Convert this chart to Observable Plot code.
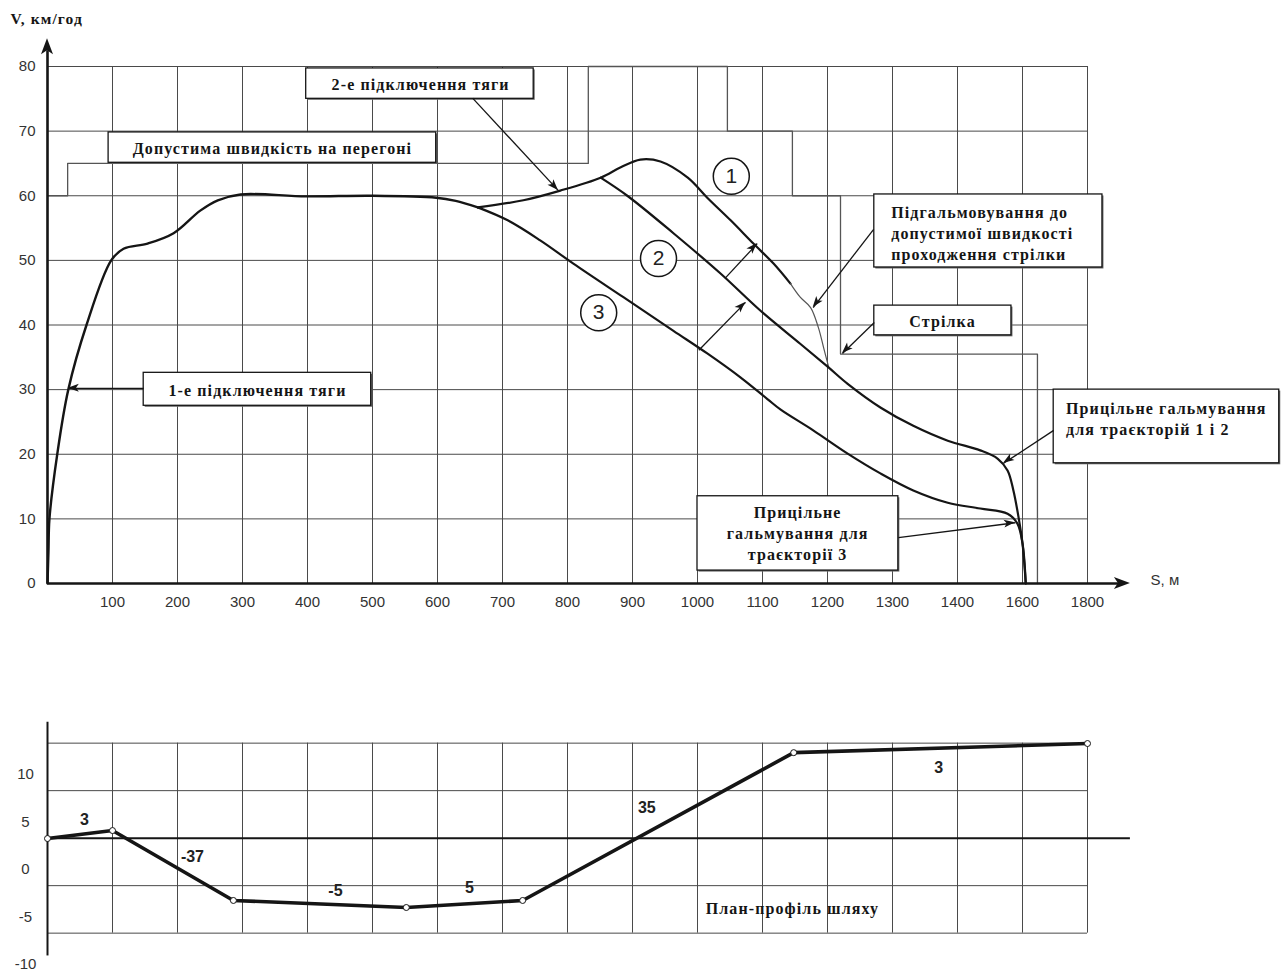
<!DOCTYPE html>
<html>
<head>
<meta charset="utf-8">
<script src="https://cdn.jsdelivr.net/npm/d3@7"></script>
<script src="https://cdn.jsdelivr.net/npm/@observablehq/plot@0.6"></script>
<style>
  html, body { margin: 0; padding: 0; background: #fff; }
  #wrap { position: relative; width: 1282px; height: 971px; overflow: hidden; }
  #wrap svg { position: absolute; left: 0; }
  #wrap g[font-family*="Liberation Serif"] { letter-spacing: 1.1px; }
</style>
</head>
<body>
<div id="wrap"></div>
<script>
// ---------- Data (distance S in grid units, speed V in km/h) ----------
const xGrid = [100,200,300,400,500,600,700,800,900,1000,1100,1200,1300,1400,1500,1600];
const xTickLabels = ["100","200","300","400","500","600","700","800","900","1000","1100","1200","1300","1400","1600","1800"];
const yTicks = [0,10,20,30,40,50,60,70,80];

// permissible speed (step line)
const limitS = [0, 31, 31, 832, 832, 1046, 1046, 1146, 1146, 1220, 1220, 1523, 1523];
const limitV = [60, 60, 65, 65, 80, 80, 70, 70, 60, 60, 35.5, 35.5, 0];

// common acceleration part
const commonS = [0, 1.5, 3, 15, 32, 60, 98, 117, 154, 194, 235, 262, 297, 398, 498, 598, 628, 662];
const commonV = [0, 5, 10, 20, 30, 40, 50, 51.8, 52.6, 54.2, 57.7, 59.3, 60.2, 59.9, 60, 59.7, 59.2, 58.2];

// trajectory 1 (second traction, then braking)
const traj1S = [662, 732, 789, 851, 882, 912, 943, 985, 1015, 1051, 1086, 1117, 1143];
const traj1V = [58.2, 59.3, 60.8, 62.8, 64.4, 65.6, 65.3, 62.8, 59.7, 56.2, 52.6, 49.5, 46.4];
// braking down to the switch speed (thin)
const brakeS = [1143, 1158, 1174, 1186, 1194, 1202];
const brakeV = [46.4, 44.3, 42.7, 39.6, 36.5, 33.4];

// trajectory 2
const traj2S = [851, 892, 963, 1035, 1097, 1158, 1202, 1231, 1282, 1332, 1385, 1435, 1462, 1477, 1486, 1494, 1500, 1505];
const traj2V = [62.8, 60, 54.2, 48, 42.2, 37.1, 33.4, 30.9, 27.2, 24.4, 22.1, 20.6, 19.3, 17.5, 14.4, 10.2, 6.2, 0];

// trajectory 3
const traj3S = [662, 708, 758, 809, 886, 963, 1015, 1066, 1108, 1128, 1178, 1231, 1282, 1332, 1385, 1435, 1477, 1492, 1500, 1505];
const traj3V = [58.2, 56.2, 53.1, 49.5, 44.3, 39.1, 35.6, 31.9, 28.5, 26.9, 23.7, 20.1, 17, 14.4, 12.5, 11.6, 10.8, 9.3, 6.2, 0];

// road profile
const profileS = [0, 100, 286, 552, 731, 1148, 1600];
const profileH = [3.26, 4.1, -3.26, -4.0, -3.26, 12.3, 13.26];
const profileTicks = [-10, -5, 0, 5, 10];
const profileGrid = [13.3, 8.3, -1.7, -6.7];
const profileBase = 3.3;
const slopeLabels = ["3", "-37", "-5", "5", "35", "3"];
const slopeAtS = [57, 223, 443, 649, 922, 1371];
const slopeAtH = [5.2, 1.3, -2.2, -1.9, 6.5, 10.7];

// annotations (boxes, texts, arrows) in data units
const boxes = [
  {x1: 94, x2: 598, y1: 65.1, y2: 69.8},
  {x1: 398, x2: 748, y1: 75.0, y2: 79.7},
  {x1: 148, x2: 498, y1: 27.5, y2: 32.6},
  {x1: 1272, x2: 1623, y1: 48.9, y2: 60.2},
  {x1: 1272, x2: 1483, y1: 38.4, y2: 43.0},
  {x1: 1548, x2: 1895, y1: 18.6, y2: 30.0},
  {x1: 1000, x2: 1309, y1: 2.0, y2: 13.5}
];
const centeredNotes = [
  {x: 346, y: 67.45, text: "Допустима швидкість на перегоні"},
  {x: 574, y: 77.35, text: "2-е підключення тяги"},
  {x: 323, y: 30.05, text: "1-е підключення тяги"},
  {x: 1377, y: 40.7, text: "Стрілка"},
  {x: 1154, y: 7.95, text: "Прицільне\nгальмування для\nтраєкторії 3"}
];
const leftNotes = [
  {x: 1298, y: 54.3, text: "Підгальмовування до\nдопустимої швидкості\nпроходження стрілки"},
  {x: 1567, y: 25.65, text: "Прицільне гальмування\nдля траєкторій 1 і 2"}
];
const pointers = [
  {x1: 148, y1: 30.2, x2: 32, y2: 30.2},
  {x1: 654, y1: 75.1, x2: 786, y2: 60.8},
  {x1: 1271, y1: 54.8, x2: 1178, y2: 42.7},
  {x1: 1272, y1: 40.4, x2: 1223, y2: 35.6},
  {x1: 1548, y1: 23.7, x2: 1471, y2: 18.6},
  {x1: 1309, y1: 7.1, x2: 1489, y2: 9.4},
  {x1: 1043, y1: 47.3, x2: 1092, y2: 52.6},
  {x1: 1002, y1: 36.1, x2: 1074, y2: 43.5}
];
const markers = [
  {x: 1052, y: 63.0, label: "1"},
  {x: 940, y: 50.3, label: "2"},
  {x: 848, y: 41.9, label: "3"}
];

// ---------- helpers ----------
const rows = (S, V) => S.map((s, i) => ({s, v: V[i]}));
const ink = "#151515";
const gridColor = "#4a4a4a";
const serif = "'Liberation Serif', 'Times New Roman', serif";
const sans = "'Liberation Sans', Arial, sans-serif";
const narrow = "'Liberation Sans Narrow', 'Liberation Sans', Arial, sans-serif";
const noteStyle = {lineAnchor: "middle", lineHeight: 1.3, fontFamily: serif, fontWeight: "bold", fontSize: 16, fill: ink};

// filled arrow heads drawn through the plot scales
function heads(items, len = 11, half = 4) {
  return (index, scales) => {
    const g = d3.create("svg:g").attr("fill", ink);
    for (const d of items) {
      const X1 = scales.x(d.x1), Y1 = scales.y(d.y1), X2 = scales.x(d.x2), Y2 = scales.y(d.y2);
      const a = Math.atan2(Y2 - Y1, X2 - X1);
      const L = d.len ?? len, W = d.half ?? half;
      const bx = X2 - L * Math.cos(a), by = Y2 - L * Math.sin(a);
      const nx = X2 - L * 0.75 * Math.cos(a), ny = Y2 - L * 0.75 * Math.sin(a);
      const px = -Math.sin(a) * W, py = Math.cos(a) * W;
      g.append("path").attr("d", `M${X2},${Y2}L${bx + px},${by + py}L${nx},${ny}L${bx - px},${by - py}Z`);
    }
    return g.node();
  };
}

const xTickMap = new Map(xGrid.map((x, i) => [x, xTickLabels[i]]));

// ---------- upper chart: speed ----------
const speedChart = Plot.plot({
  width: 1282, height: 625,
  marginLeft: 47, marginRight: 195, marginTop: 66, marginBottom: 42,
  x: {domain: [0, 1600], axis: null},
  y: {domain: [0, 80], axis: null},
  style: {fontFamily: sans, fontSize: "15px", background: "transparent", overflow: "visible"},
  marks: [
    Plot.ruleX(xGrid, {x: d => d, y1: 0, y2: 80, stroke: gridColor, strokeWidth: 1}),
    Plot.ruleY(yTicks.filter(v => v > 0), {y: d => d, x1: 0, x2: 1600, stroke: gridColor, strokeWidth: 1}),
    Plot.line(rows(limitS, limitV), {x: "s", y: "v", stroke: "#555", strokeWidth: 1.3}),
    Plot.line(rows(commonS, commonV), {x: "s", y: "v", stroke: ink, strokeWidth: 2.4, curve: "catmull-rom"}),
    Plot.line(rows(traj1S, traj1V), {x: "s", y: "v", stroke: ink, strokeWidth: 2.2, curve: "catmull-rom"}),
    Plot.line(rows(brakeS, brakeV), {x: "s", y: "v", stroke: "#555", strokeWidth: 1.2, curve: "catmull-rom"}),
    Plot.line(rows(traj2S, traj2V), {x: "s", y: "v", stroke: ink, strokeWidth: 2.2, curve: "catmull-rom"}),
    Plot.line(rows(traj3S, traj3V), {x: "s", y: "v", stroke: ink, strokeWidth: 2.2, curve: "catmull-rom"}),
    // annotation boxes (with slight shadow)
    Plot.rect(boxes, {x1: "x1", x2: "x2", y1: "y1", y2: "y2", fill: "#666", dx: 1.5, dy: 1.5}),
    Plot.rect(boxes, {x1: "x1", x2: "x2", y1: "y1", y2: "y2", fill: "white", stroke: ink, strokeWidth: 1.3}),
    Plot.text(centeredNotes, {x: "x", y: "y", text: "text", textAnchor: "middle", ...noteStyle}),
    Plot.text(leftNotes, {x: "x", y: "y", text: "text", textAnchor: "start", ...noteStyle}),
    // pointers
    Plot.link(pointers, {x1: "x1", y1: "y1", x2: "x2", y2: "y2", stroke: ink, strokeWidth: 1.3}),
    heads(pointers),
    // trajectory markers
    Plot.dot(markers, {x: "x", y: "y", r: 18, fill: "white", stroke: ink, strokeWidth: 1.5}),
    Plot.text(markers, {x: "x", y: "y", text: "label", fontSize: 21, fontFamily: sans, fill: "#222"}),
    // axes
    Plot.link([{x1: 0, y1: 0, x2: 1655, y2: 0}, {x1: 0, y1: 0, x2: 0, y2: 82.5}],
      {x1: "x1", y1: "y1", x2: "x2", y2: "y2", stroke: ink, strokeWidth: 2.6}),
    heads([{x1: 1600, y1: 0, x2: 1666, y2: 0, len: 16, half: 6}, {x1: 0, y1: 70, x2: 0, y2: 84.3, len: 16, half: 6}]),
    Plot.axisX({ticks: xGrid, tickFormat: d => xTickMap.get(d), tickSize: 0, tickPadding: 13, label: null,
      fontSize: 15, fill: "#333"}),
    Plot.axisY({ticks: yTicks, tickSize: 0, tickPadding: 12, label: null, fontSize: 15, fill: "#333"}),
    Plot.text(["V, км/год"], {x: -57, y: 87.4, text: d => d, textAnchor: "start", fontFamily: serif,
      fontWeight: "bold", fontSize: 15.5, fill: ink}),
    Plot.text(["S, м"], {x: 1697, y: 0.5, text: d => d, textAnchor: "start", fontFamily: sans,
      fontSize: 15, fill: "#333"})
  ]
});
speedChart.style.top = "0px";

// ---------- lower chart: road profile ----------
const profile = rows(profileS, profileH);
const slopes = slopeLabels.map((t, i) => ({t, s: slopeAtS[i], h: slopeAtH[i]}));
const profileChart = Plot.plot({
  width: 1282, height: 271,
  marginLeft: 47, marginRight: 195, marginTop: 26.5, marginBottom: 7,
  x: {domain: [0, 1600], axis: null},
  y: {domain: [-10, 15], axis: null},
  style: {fontFamily: sans, fontSize: "15px", background: "transparent", overflow: "visible"},
  marks: [
    Plot.ruleX(xGrid, {x: d => d, y1: -6.7, y2: 13.3, stroke: gridColor, strokeWidth: 1}),
    Plot.ruleY(profileGrid, {y: d => d, x1: 0, x2: 1600, stroke: gridColor, strokeWidth: 1}),
    Plot.ruleY([profileBase], {y: d => d, x1: 0, x2: 1666, stroke: ink, strokeWidth: 2}),
    Plot.ruleX([0], {x: d => d, y1: -9.1, y2: 15.5, stroke: ink, strokeWidth: 2}),
    Plot.line(profile, {x: "s", y: "v", stroke: ink, strokeWidth: 3.6}),
    Plot.dot(profile, {x: "s", y: "v", r: 3, fill: "white", stroke: ink, strokeWidth: 1}),
    Plot.text(slopes, {x: "s", y: "h", text: "t", fontFamily: narrow, fontWeight: "bold", fontSize: 16, fill: "#222"}),
    Plot.text(["План-профіль шляху"], {x: 1146, y: -4.1, text: d => d, fontFamily: serif, fontWeight: "bold",
      fontSize: 16, fill: ink}),
    Plot.text(profileTicks, {x: 0, y: d => d, text: d => String(d), dx: -22, textAnchor: "middle",
      fontSize: 15, fill: "#333"})
  ]
});
profileChart.style.top = "700px";

const wrap = document.getElementById("wrap");
wrap.appendChild(speedChart);
wrap.appendChild(profileChart);
</script>
</body>
</html>
